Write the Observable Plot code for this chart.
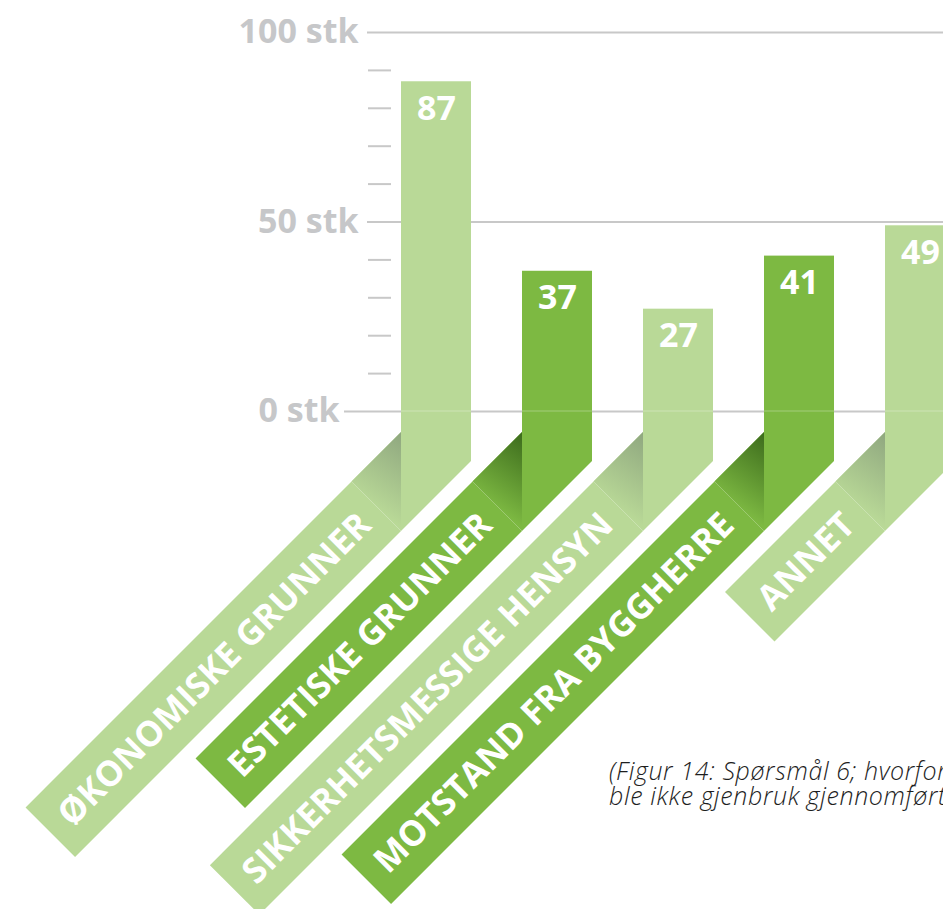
<!DOCTYPE html>
<html><head><meta charset="utf-8">
<script src="https://cdn.jsdelivr.net/npm/d3@7"></script>
<script src="https://cdn.jsdelivr.net/npm/@observablehq/plot@0.6"></script>
<style>
html,body{margin:0;padding:0;background:#fff;overflow:hidden;width:943px;height:909px;}
#wrap{position:relative;width:943px;height:909px;overflow:hidden;}
#chart svg{display:block;overflow:hidden;}
#caption{position:absolute;left:609px;top:758px;font-family:"Open Sans",sans-serif;font-style:italic;font-weight:300;font-size:25px;letter-spacing:0.6px;line-height:25px;color:#1e1e1e;white-space:nowrap;}
</style></head><body>
<div id="wrap"><div id="chart"></div><div id="caption"></div></div>
<script>
// ---- data ----
const categories = ["ØKONOMISKE GRUNNER", "ESTETISKE GRUNNER", "SIKKERHETSMESSIGE HENSYN", "MOTSTAND FRA BYGGHERRE", "ANNET"];
const values = [87, 37, 27, 41, 49];
const barColors = ["#b9d997", "#7db942", "#b9d997", "#7db942", "#b9d997"];
const shadowColors = ["#8fa77f", "#3c6b1c", "#8fa77f", "#3c6b1c", "#8fa77f"];
const majorTicks = [0, 50, 100];
const minorTicks = [10, 20, 30, 40, 60, 70, 80, 90];
const tickLabels = ["0 stk", "50 stk", "100 stk"];
const captionLines = ["(Figur 14: Spørsmål 6; hvorfor", "ble ikke gjenbruk gjennomført?)"];

const data = categories.map((c, i) => ({cat: c, value: values[i], color: barColors[i], shadow: shadowColors[i]}));
const ticks = majorTicks.map((t, i) => ({t, label: tickLabels[i]}));

// ---- style constants ----
const W = 943, H = 909;
const FONT = "'Open Sans', sans-serif";
const GRID = "#c8c8c8";
const LABEL_GRAY = "#c6c7c9";
const DROP = 120;          // px that the bar's left edge drops below zero before folding
const RIB_FONT = 35;       // ribbon label font size
const PAD_START = 13, PAD_END = 12;

const ctx = document.createElement("canvas").getContext("2d");
ctx.font = `700 ${RIB_FONT}px 'Open Sans'`;

function ribbons(index, scales) {
  const x = scales.x, y = scales.y;
  const step = x(categories[1]) - x(categories[0]);
  const w = (x.bandwidth ? x.bandwidth() : step * (1 - 0.418));
  const y0 = y(0);
  const S2 = Math.SQRT2;
  const g = d3.create("svg:g");
  const defs = g.append("defs");
  data.forEach((d, i) => {
    const L = x(d.cat), R = L + w;
    const t = w / S2;
    const lowL = [L, y0 + DROP];
    const upL = [L, y0 + DROP - w * S2];
    const foldU = [L - t, y0 + DROP - t];
    const tw = ctx.measureText(d.cat).width;
    const a = tw / S2 + PAD_START + PAD_END;
    const endU = [foldU[0] - a, foldU[1] + a];
    const endL = [L - a, y0 + DROP + a];
    const pts = p => p.map(q => q.join(",")).join(" ");
    // ribbon
    g.append("polygon").attr("points", pts([upL, endU, endL, lowL])).attr("fill", d.color);
    // shadow gradient
    const id = "sh" + i;
    const gr = defs.append("linearGradient").attr("id", id)
      .attr("gradientUnits", "userSpaceOnUse")
      .attr("x1", L).attr("y1", upL[1]).attr("x2", L - t * 0.9).attr("y2", upL[1] + t * 1.3);
    gr.append("stop").attr("offset", 0).attr("stop-color", d.shadow).attr("stop-opacity", 1);
    gr.append("stop").attr("offset", 1).attr("stop-color", d.color).attr("stop-opacity", 1);
    g.append("polygon").attr("points", pts([upL, lowL, foldU])).attr("fill", `url(#${id})`);
    g.append("line").attr("x1", lowL[0]).attr("y1", lowL[1]).attr("x2", foldU[0]).attr("y2", foldU[1])
      .attr("stroke", "#fff").attr("stroke-opacity", 0.25).attr("stroke-width", 1);
    // bar tail below zero
    g.append("polygon").attr("points", pts([[L, y0], [R, y0], [R, y0 + DROP - w], lowL])).attr("fill", d.color);
    g.append("line").attr("x1", L).attr("x2", R).attr("y1", y0).attr("y2", y0)
      .attr("stroke", "#fff").attr("stroke-opacity", 0.3).attr("stroke-width", 1);
    // label
    const ec = [(endU[0] + endL[0]) / 2, (endU[1] + endL[1]) / 2];
    const px = ec[0] + PAD_START, py = ec[1] - PAD_START;
    g.append("text").attr("transform", `translate(${px},${py}) rotate(-45)`)
      .attr("dy", "0.36em").attr("fill", "#fff").attr("text-anchor", "start")
      .attr("font-family", FONT).attr("font-weight", 700).attr("font-size", RIB_FONT)
      .text(d.cat);
  });
  return g.node();
}

const chart = Plot.plot({
  width: W, height: H,
  marginLeft: 344, marginRight: 0, marginTop: 0, marginBottom: 0,
  style: {fontFamily: FONT, background: "#fff"},
  x: {domain: categories, range: [401, 960], paddingInner: 0.418, paddingOuter: 0, align: 0, axis: null},
  y: {domain: [0, 100], range: [411, 32], axis: null},
  marks: [
    Plot.ruleY([0], {stroke: GRID, strokeWidth: 2}),
    Plot.ruleY(majorTicks.filter(t => t > 0), {stroke: GRID, strokeWidth: 2, insetLeft: 23}),
    Plot.ruleY(minorTicks, {stroke: GRID, strokeWidth: 2, insetLeft: 24, insetRight: W - 391}),
    Plot.barY(data, {x: "cat", y: "value", fill: "color"}),
    ribbons,
    Plot.text(data, {x: "cat", y: "value", text: d => String(d.value), dy: 27, fill: "#fff",
      fontSize: 34, fontWeight: 700}),
    Plot.text(ticks.filter(d => d.t > 0), {y: "t", text: "label", frameAnchor: "left", textAnchor: "end",
      dx: 14, fill: LABEL_GRAY, fontSize: 34, fontWeight: 700}),
    Plot.text(ticks.filter(d => d.t === 0), {y: "t", text: "label", frameAnchor: "left", textAnchor: "end",
      dx: -5, fill: LABEL_GRAY, fontSize: 34, fontWeight: 700})
  ]
});
document.getElementById("chart").appendChild(chart);
document.getElementById("caption").innerHTML = captionLines.join("<br>");
</script>
</body></html>
